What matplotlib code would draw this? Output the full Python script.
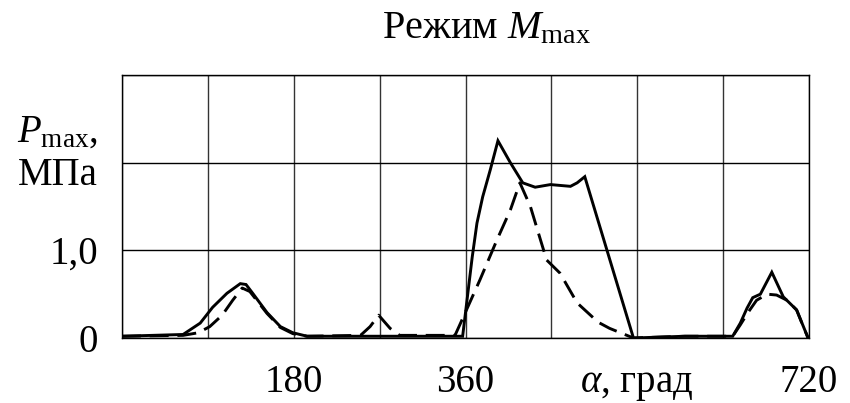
import matplotlib
matplotlib.use("Agg")
import matplotlib.pyplot as plt
import numpy as np

plt.rcParams['font.family'] = ['Liberation Serif', 'DejaVu Serif']
plt.rcParams['mathtext.fontset'] = 'custom'
plt.rcParams['mathtext.rm'] = 'Liberation Serif'
plt.rcParams['mathtext.it'] = 'Liberation Serif:italic'

# Solid curve
solid_deg = [0, 64, 82, 95, 110, 124, 130, 137, 152, 166, 179, 194, 260, 357,
             362, 367, 372, 378, 386, 394, 407, 420, 433, 449, 470, 477, 485,
             536, 590, 640, 648, 655, 661, 669, 681, 693, 707, 719]
solid_p = [0.02, 0.04, 0.17, 0.35, 0.51, 0.62, 0.61, 0.51, 0.29, 0.13, 0.06, 0.02, 0.02, 0.02,
           0.47, 0.92, 1.31, 1.61, 1.92, 2.25, 2.00, 1.77, 1.72, 1.75, 1.73, 1.77, 1.84,
           0.00, 0.02, 0.02, 0.17, 0.34, 0.46, 0.50, 0.75, 0.47, 0.32, 0.00]

# Dashed curve
dash_deg = [0, 64, 80, 92, 105, 116, 126, 134, 152, 166, 179, 194, 250, 260, 269, 281, 291,
            349, 354, 375, 393, 407, 417, 428, 438, 445, 459, 477, 499, 511,
            536, 590, 640, 648, 656, 665, 676, 686, 697, 707, 714, 719]
dash_p = [0.02, 0.03, 0.06, 0.13, 0.26, 0.43, 0.57, 0.53, 0.28, 0.12, 0.05, 0.02, 0.03, 0.13, 0.26, 0.11, 0.03,
          0.03, 0.15, 0.66, 1.12, 1.46, 1.77, 1.50, 1.14, 0.89, 0.74, 0.40, 0.18, 0.11,
          0.00, 0.02, 0.02, 0.15, 0.29, 0.43, 0.50, 0.49, 0.43, 0.32, 0.13, 0.00]

x_grid = [0, 90, 180, 270, 360, 450, 540, 630, 720]
y_grid = [0, 1, 2, 3]
x_labels = {180: '180', 360: '360', 720: '720'}
y_labels = {0: '0', 1: '1,0'}

fig = plt.figure(figsize=(8.5, 4.03), dpi=100)
ax = fig.add_axes([0.1435, 0.1613, 0.8083, 0.6526])
ax.set_xlim(0, 720)
ax.set_ylim(0, 3)

ax.plot(solid_deg, solid_p, color='black', lw=2.1, solid_joinstyle='miter', zorder=3)
ax.plot(dash_deg, dash_p, color='black', lw=2.1, dashes=(6.5, 3), zorder=3)

for xv in x_grid:
    ax.axvline(xv, color='#333333', lw=1.0, zorder=1)
for yv in y_grid:
    ax.axhline(yv, color='black', lw=1.0, zorder=1)

ax.set_xticks([])
ax.set_yticks([])
for s in ax.spines.values():
    s.set_linewidth(1.0)

fs = 28
for xv, lab in x_labels.items():
    ax.text(xv, -0.616, lab, ha='center', va='baseline', fontsize=fs, clip_on=False)
ax.text(539, -0.616, r'$\alpha$, град', ha='center', va='baseline', fontsize=fs)
ax.text(-25, 0.96, '1,0', ha='right', va='center', fontsize=fs)
ax.text(-25, -0.05, '0', ha='right', va='center', fontsize=fs)
ax.text(-25, 2.24, r'$P_{\rm max}$,', ha='right', va='baseline', fontsize=fs)
ax.text(-25, 1.745, 'МПа', ha='right', va='baseline', fontsize=fs)

fig.text(382 / 850, 1 - 38 / 403, r'Режим $M_{\rm max}$', ha='left', va='baseline', fontsize=29)

fig.savefig('out.png', dpi=100)
